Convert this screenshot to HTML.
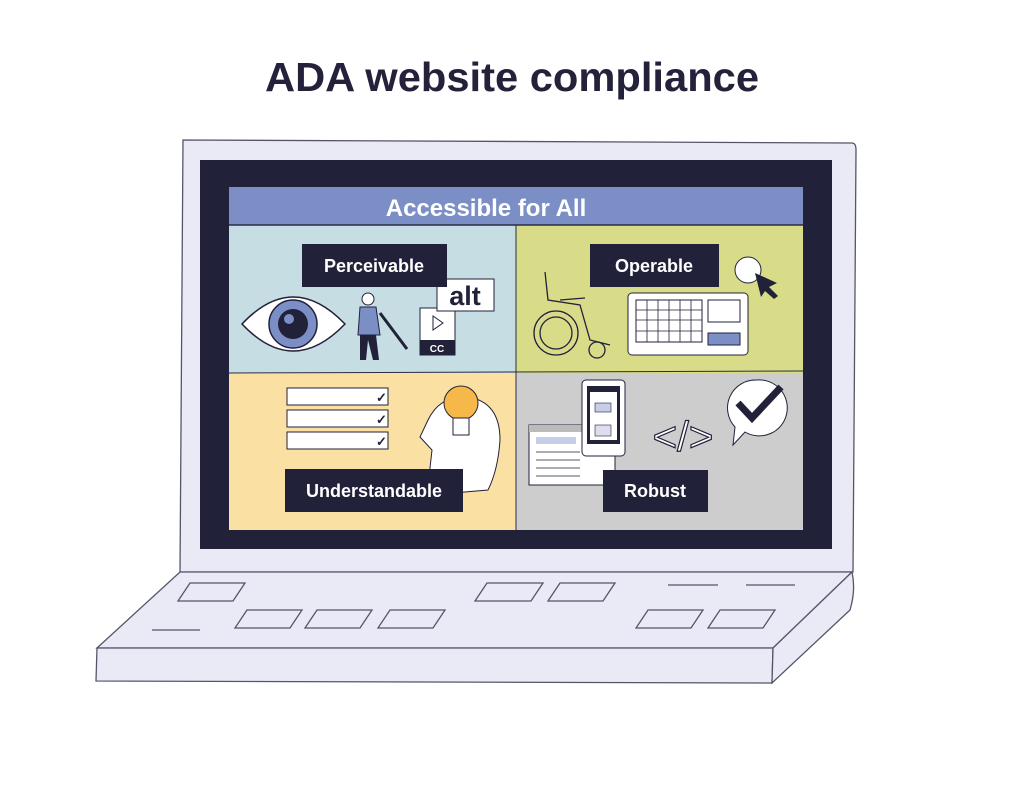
<!DOCTYPE html>
<html><head><meta charset="utf-8"><style>
html,body{margin:0;padding:0;background:#fff}
svg{display:block}
text{font-family:"Liberation Sans",sans-serif}
</style></head><body>
<svg width="1024" height="797" viewBox="0 0 1024 797" xmlns="http://www.w3.org/2000/svg">
<rect width="1024" height="797" fill="#fff"/>
<text x="512" y="91" text-anchor="middle" font-size="41" font-weight="bold" fill="#23223a" textLength="494" lengthAdjust="spacingAndGlyphs">ADA website compliance</text>
<!-- lid -->
<path d="M183,140 L852,143 Q856,143 856,150 L853,572 L180,572 Z" fill="#e9eaf6" stroke="#55556a" stroke-width="1.3"/>
<rect x="200" y="160" width="632" height="389" fill="#22213a"/>
<!-- base -->
<path d="M180,572 L852,572 L773,648 L97,648 Z" fill="#e9eaf6" stroke="#55556a" stroke-width="1.3"/>
<path d="M97,648 L773,648 L772,683 L96,681 Z" fill="#e9eaf6" stroke="#55556a" stroke-width="1.3"/>
<path d="M773,648 L852,572 Q856,590 850,610 L772,683 Z" fill="#e9eaf6" stroke="#55556a" stroke-width="1.3"/>
<g fill="none" stroke="#55556a" stroke-width="1.3">
<path d="M190,583 L245,583 L233,601 L178,601 Z"/>
<path d="M487,583 L543,583 L531,601 L475,601 Z"/>
<path d="M560,583 L615,583 L603,601 L548,601 Z"/>
<path d="M247,610 L302,610 L290,628 L235,628 Z"/>
<path d="M317,610 L372,610 L360,628 L305,628 Z"/>
<path d="M390,610 L445,610 L433,628 L378,628 Z"/>
<path d="M648,610 L703,610 L691,628 L636,628 Z"/>
<path d="M720,610 L775,610 L763,628 L708,628 Z"/>
<path d="M668,585 L718,585 M746,585 L795,585 M152,630 L200,630"/>
</g>
<!-- content -->
<rect x="229" y="225" width="287" height="148" fill="#c6dde4"/>
<rect x="516" y="225" width="287" height="148" fill="#d8dc88"/>
<rect x="229" y="373" width="287" height="157" fill="#fbe0a4"/>
<rect x="516" y="373" width="287" height="157" fill="#cdcdcd"/>
<rect x="229" y="187" width="574" height="38" fill="#7b8fc6"/>
<line x1="229" y1="225" x2="803" y2="225" stroke="#2b2b44" stroke-width="1.5"/>
<line x1="516" y1="225" x2="516" y2="530" stroke="#2b2b44" stroke-width="1"/>
<line x1="229" y1="373" x2="803" y2="371" stroke="#2b2b44" stroke-width="1"/>
<text x="486" y="216" text-anchor="middle" font-size="24" font-weight="bold" fill="#fff">Accessible for All</text>
<!-- TL icons -->
<path d="M242,324 Q293,270 345,324 Q293,378 242,324 Z" fill="#fff" stroke="#22213a" stroke-width="1.5"/>
<circle cx="293" cy="324" r="24" fill="#7b8fc6" stroke="#22213a" stroke-width="1.5"/>
<circle cx="293" cy="324" r="15" fill="#22213a"/>
<circle cx="289" cy="319" r="5" fill="#7b8fc6"/>
<circle cx="368" cy="299" r="6" fill="#fff" stroke="#22213a"/>
<path d="M360,307 L376,307 L380,335 L358,335 Z" fill="#7b8fc6" stroke="#22213a"/>
<path d="M360,335 L376,335 L379,360 L373,360 L368,340 L366,360 L360,360 Z" fill="#22213a"/>
<line x1="380" y1="313" x2="407" y2="349" stroke="#22213a" stroke-width="3"/>
<rect x="420" y="308" width="35" height="47" fill="#fff" stroke="#22213a"/>
<rect x="420" y="340" width="35" height="15" fill="#22213a"/>
<text x="437" y="352" text-anchor="middle" font-size="10" font-weight="bold" fill="#fff">CC</text>
<path d="M433,316 L443,323 L433,330 Z" fill="none" stroke="#22213a"/>
<rect x="437" y="279" width="57" height="32" fill="#fff" stroke="#22213a"/>
<text x="465" y="305" text-anchor="middle" font-size="27" font-weight="bold" fill="#22213a">alt</text>
<rect x="302" y="244" width="145" height="43" fill="#22213a"/>
<text x="374" y="272" text-anchor="middle" font-size="18" font-weight="bold" fill="#fff">Perceivable</text>
<!-- TR icons -->
<g fill="none" stroke="#22213a" stroke-width="1.3">
<circle cx="556" cy="333" r="22"/><circle cx="556" cy="333" r="16"/>
<circle cx="597" cy="350" r="8"/>
<path d="M545,272 L548,300 L580,305 L590,340 L610,345 M560,300 L585,298"/>
</g>
<rect x="628" y="293" width="120" height="62" rx="4" fill="#fff" stroke="#22213a"/>
<rect x="636" y="300" width="66" height="42" fill="none" stroke="#22213a"/>
<path d="M647,300V342M658,300V342M669,300V342M680,300V342M691,300V342M636,310H702M636,320H702M636,331H702" stroke="#22213a" stroke-width="0.8"/>
<rect x="708" y="300" width="32" height="22" fill="none" stroke="#22213a"/>
<rect x="708" y="333" width="32" height="12" fill="#7b8fc6" stroke="#22213a"/>
<circle cx="748" cy="270" r="13" fill="#fff" stroke="#22213a"/>
<path d="M755,273 L777,283 L769,287 L778,296 L774,299 L765,291 L761,297 Z" fill="#22213a"/>
<rect x="590" y="244" width="129" height="43" fill="#22213a"/>
<text x="654" y="272" text-anchor="middle" font-size="18" font-weight="bold" fill="#fff">Operable</text>
<!-- BL icons -->
<g fill="#fff" stroke="#22213a" stroke-width="1">
<rect x="287" y="388" width="101" height="17"/>
<rect x="287" y="410" width="101" height="17"/>
<rect x="287" y="432" width="101" height="17"/>
</g>
<text x="376" y="402" font-size="13" font-weight="bold" fill="#22213a">✓</text>
<text x="376" y="424" font-size="13" font-weight="bold" fill="#22213a">✓</text>
<text x="376" y="446" font-size="13" font-weight="bold" fill="#22213a">✓</text>
<path d="M430,468 L432,450 L420,437 L428,420 Q440,395 468,397 Q500,402 500,440 Q498,470 488,490 L430,495 Z" fill="#fff" stroke="#22213a"/>
<circle cx="461" cy="403" r="17" fill="#f7b84a" stroke="#22213a"/>
<rect x="453" y="418" width="16" height="17" fill="#fff" stroke="#22213a"/>
<rect x="285" y="469" width="178" height="43" fill="#22213a"/>
<text x="374" y="497" text-anchor="middle" font-size="18" font-weight="bold" fill="#fff">Understandable</text>
<!-- BR icons -->
<rect x="529" y="425" width="86" height="60" fill="#fff" stroke="#22213a"/>
<rect x="529" y="425" width="86" height="7" fill="#bbb"/>
<rect x="536" y="437" width="40" height="7" fill="#c6cde6"/>
<path d="M536,452H580M536,460H580M536,468H580M536,476H580" stroke="#22213a" stroke-width="0.8"/>
<rect x="582" y="380" width="43" height="76" rx="4" fill="#fff" stroke="#22213a"/>
<rect x="587" y="386" width="33" height="58" fill="#22213a"/>
<rect x="590" y="392" width="27" height="48" fill="#fff"/>
<rect x="595" y="403" width="16" height="9" fill="#c6cde6" stroke="#22213a" stroke-width="0.6"/>
<rect x="595" y="425" width="16" height="11" fill="#dde" stroke="#22213a" stroke-width="0.6"/>
<text x="683" y="451" text-anchor="middle" font-size="42" fill="#fff" stroke="#22213a" stroke-width="1.2">&lt;/&gt;</text>
<path d="M757,380 A28,28 0 1,1 745,432 L733,445 L735,427 A28,28 0 0,1 757,380 Z" fill="#fff" stroke="#22213a"/>
<path d="M738,403 L752,418 L781,387" fill="none" stroke="#22213a" stroke-width="7"/>
<rect x="603" y="470" width="105" height="42" fill="#22213a"/>
<text x="655" y="497" text-anchor="middle" font-size="18" font-weight="bold" fill="#fff">Robust</text>
</svg>
</body></html>
